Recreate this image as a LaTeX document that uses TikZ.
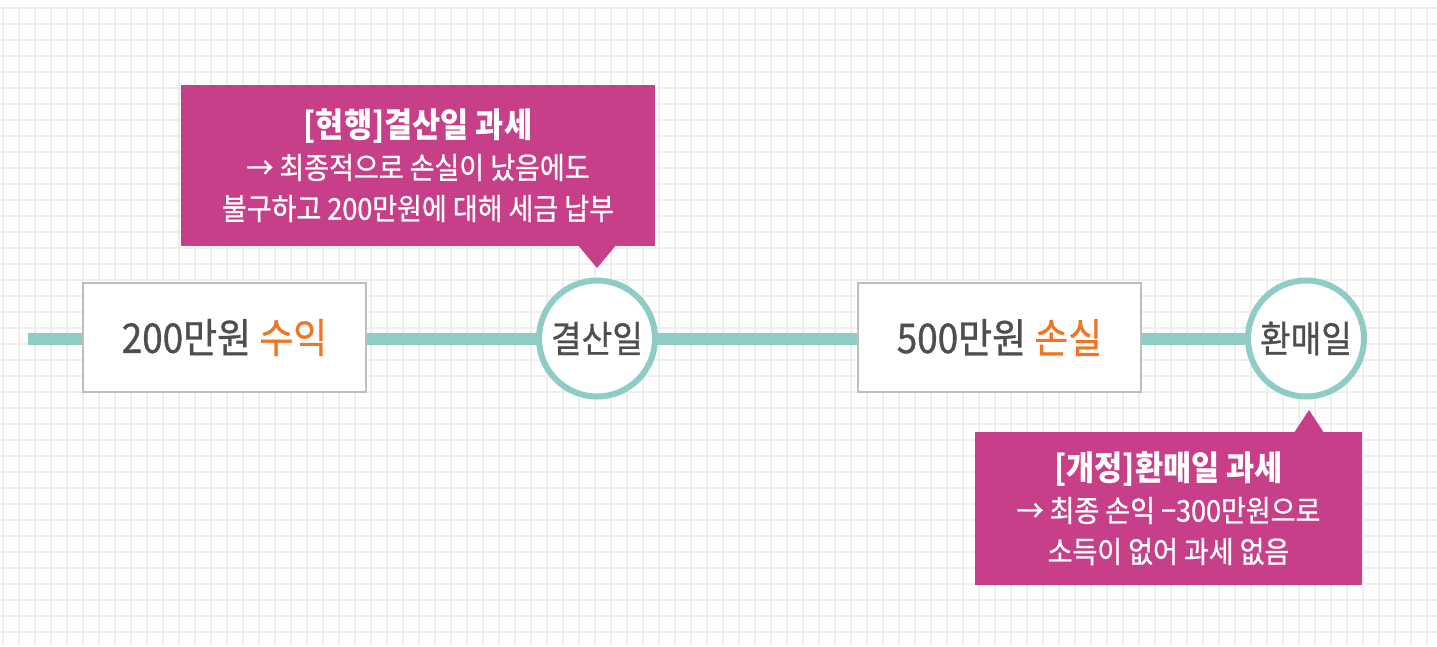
\documentclass[tikz,border=0pt]{standalone}
\usepackage{fontspec}
\setmainfont{Noto Sans CJK KR}[FakeStretch=0.9]
\newfontfamily\medfont{Noto Sans CJK KR}[FakeStretch=0.9, FakeBold=0.8]
\usetikzlibrary{backgrounds,calc}
\definecolor{tealline}{RGB}{143,204,198}
\definecolor{pinkc}{RGB}{199,63,136}
\definecolor{accent}{RGB}{240,118,38}
\definecolor{darktext}{RGB}{78,78,80}
\definecolor{gridc}{RGB}{238,238,236}
\definecolor{boxgray}{RGB}{190,190,190}
\tikzset{
  gridline/.style={draw=gridc, line width=1.3pt},
  valbox/.style={draw=boxgray, fill=white, line width=1.5pt, minimum width=283pt, minimum height=109pt, inner sep=0pt, text=darktext, font=\medfont\fontsize{41}{45}\selectfont},
  daycirc/.style={circle, draw=tealline, line width=6pt, fill=white, minimum size=116pt, inner sep=0pt, text=darktext, font=\medfont\fontsize{37}{40}\selectfont},
  calloutbox/.style={fill=pinkc, text=white, inner sep=0pt, align=center, font=\medfont\fontsize{30}{41}\selectfont},
  timeline/.style={draw=tealline, line width=12pt},
}
\begin{document}
\begin{tikzpicture}[x=1pt,y=-1pt]
\useasboundingbox (0,0) rectangle (1437,646);

\coordinate (lstart) at (28,338.5);
\node[valbox] (b1) at (224.5,337.5) {200만원 \textcolor{accent}{수익}};
\node[daycirc] (c1) at (597,338.5) {결산일};
\node[valbox] (b2) at (999.5,337.5) {500만원 \textcolor{accent}{손실}};
\node[daycirc] (c2) at (1306,338.5) {환매일};

\begin{scope}[on background layer]
\fill[white] (0,0) rectangle (1437,646);
\foreach \x in {3,19,...,1435} \draw[gridline] (\x,8) -- (\x,646);
\foreach \y in {8,24,...,646} \draw[gridline] (0,\y) -- (1437,\y);
\draw[timeline] (lstart) -- (c2.center);
\end{scope}

\node[calloutbox, minimum width=474pt, minimum height=161pt] (k1) at (418,165.5)
  {{\rmfamily\fontsize{34}{41}\selectfont\bfseries [현행]결산일 과세}\\→ 최종적으로 손실이 났음에도\\불구하고 200만원에 대해 세금 납부};
\coordinate (t1) at (597,268);
\fill[pinkc] ([xshift=-19pt,yshift=1pt]t1 |- k1.south) -- (t1) -- ([xshift=19pt,yshift=1pt]t1 |- k1.south) -- cycle;

\node[calloutbox, minimum width=387pt, minimum height=153pt] (k2) at (1168.5,508.5)
  {{\rmfamily\fontsize{34}{41}\selectfont\bfseries [개정]환매일 과세}\\→ 최종 손익 −300만원으로\\소득이 없어 과세 없음};
\coordinate (t2) at (1309,410);
\fill[pinkc] ([xshift=-15pt,yshift=-1pt]t2 |- k2.north) -- (t2) -- ([xshift=15pt,yshift=-1pt]t2 |- k2.north) -- cycle;
\end{tikzpicture}
\end{document}
